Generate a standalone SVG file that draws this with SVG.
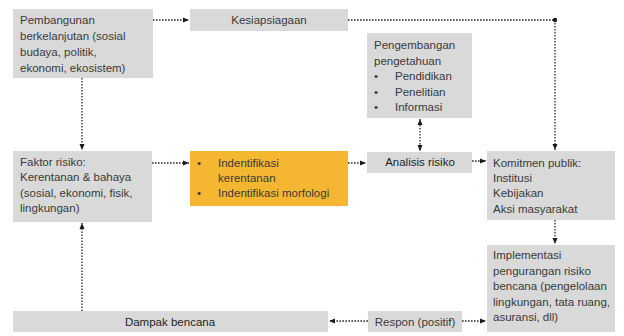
<svg xmlns="http://www.w3.org/2000/svg" width="624" height="336" viewBox="0 0 624 336">
<style>
.box{fill:#D9D9D9}
.hl{fill:#F5B731}
text{font-family:"Liberation Sans",Arial,sans-serif;font-size:11.5px;fill:#3a3a3a}
.c{text-anchor:middle}
.k{fill:#1e1e1e}
.ln{fill:none;stroke:#2b2b2b;stroke-width:1.3;stroke-dasharray:1.6 1.4}
</style>
<defs>
<marker id="ah" viewBox="0 0 6 6" refX="6" refY="3" markerWidth="6" markerHeight="6" markerUnits="userSpaceOnUse" orient="auto-start-reverse">
<path d="M0,0.5 L6,3 L0,5.5 z" fill="#1a1a1a"/>
</marker>
</defs>
<rect width="624" height="336" fill="#fff"/>
<g id="connectors">
<path class="ln" d="M153,20 H189" marker-end="url(#ah)"/>
<path class="ln" d="M348,20 H555 V150" marker-end="url(#ah)"/>
<circle cx="555" cy="20" r="2.2" fill="#1a1a1a"/>
<path class="ln" d="M82,78 V150" marker-end="url(#ah)"/>
<path class="ln" d="M82,311 V223" marker-end="url(#ah)"/>
<path class="ln" d="M152,163 H189" marker-end="url(#ah)"/>
<path class="ln" d="M348,163 H366" marker-end="url(#ah)"/>
<path class="ln" d="M420,119 V151" marker-start="url(#ah)" marker-end="url(#ah)"/>
<path class="ln" d="M472,161 H486" marker-end="url(#ah)"/>
<path class="ln" d="M555,220 V244" marker-end="url(#ah)"/>
<path class="ln" d="M462,321 H486" marker-end="url(#ah)"/>
<path class="ln" d="M368,321 H329" marker-end="url(#ah)"/>
</g>
<g id="pembangunan">
<rect class="box" x="13" y="9" width="140" height="69"/>
<text x="20" y="24">Pembangunan</text>
<text x="20" y="40">berkelanjutan (sosial</text>
<text x="20" y="56">budaya, politik,</text>
<text x="20" y="72">ekonomi, ekosistem)</text>
</g>
<g id="kesiapsiagaan">
<rect class="box" x="190" y="9" width="158" height="22"/>
<text class="c" x="269" y="24">Kesiapsiagaan</text>
</g>
<g id="pengembangan">
<rect class="box" x="367" y="33" width="105" height="85"/>
<text x="374" y="49">Pengembangan</text>
<text x="374" y="65">pengetahuan</text>
<text x="374" y="80">•</text><text x="395" y="80">Pendidikan</text>
<text x="374" y="96">•</text><text x="395" y="96">Penelitian</text>
<text x="374" y="111">•</text><text x="395" y="111">Informasi</text>
</g>
<g id="faktor">
<rect class="box" x="13" y="151" width="139" height="71"/>
<text x="20" y="166">Faktor risiko:</text>
<text x="20" y="181">Kerentanan &amp; bahaya</text>
<text x="20" y="197">(sosial, ekonomi, fisik,</text>
<text x="20" y="212">lingkungan)</text>
</g>
<g id="identifikasi">
<rect class="hl" x="190" y="151" width="158" height="55"/>
<text x="197" y="167">•</text><text x="218" y="167">Indentifikasi</text>
<text x="218" y="182">kerentanan</text>
<text x="197" y="197">•</text><text x="218" y="197">Indentifikasi morfologi</text>
</g>
<g id="analisis">
<rect class="box" x="367" y="152" width="105" height="21"/>
<text class="c k" x="420" y="166">Analisis risiko</text>
</g>
<g id="komitmen">
<rect class="box" x="487" y="151" width="128" height="69"/>
<text x="493" y="167">Komitmen publik:</text>
<text x="493" y="182">Institusi</text>
<text x="493" y="197">Kebijakan</text>
<text x="493" y="213">Aksi masyarakat</text>
</g>
<g id="implementasi">
<rect class="box" x="487" y="245" width="128" height="87"/>
<text x="493" y="259">Implementasi</text>
<text x="493" y="275">pengurangan risiko</text>
<text x="493" y="290">bencana (pengelolaan</text>
<text x="493" y="306">lingkungan, tata ruang,</text>
<text x="493" y="321">asuransi, dll)</text>
</g>
<g id="dampak">
<rect class="box" x="13" y="311" width="315" height="21"/>
<text class="c k" x="170" y="326">Dampak bencana</text>
</g>
<g id="respon">
<rect class="box" x="368" y="311" width="94" height="21"/>
<text class="c" x="415" y="326">Respon (positif)</text>
</g>
</svg>
